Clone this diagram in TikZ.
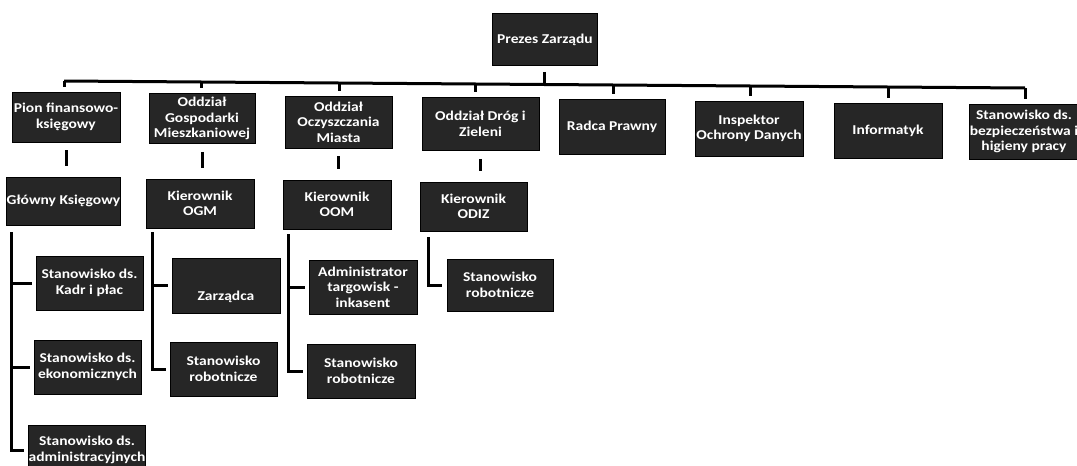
\documentclass[tikz,border=0pt]{standalone}
\usepackage{fontspec}
\setmainfont{Carlito}[FakeStretch=1.15]
\begin{document}
\begin{tikzpicture}[x=1pt,y=-1pt,
  box/.style={draw=black, line width=0.8pt, fill=black!85, text=white,
    font=\bfseries\fontsize{13.5}{15.5}\selectfont, align=center, inner sep=0pt},
  conn/.style={draw=black, line width=3pt, line join=miter}]
\fill[white] (0,0) rectangle (1077,466);
\useasboundingbox (0,0) rectangle (1077,466);
% level 0
\node[box, minimum width=105, minimum height=52] (prezes) at (545,39.5) {Prezes Zarządu};
% level 1
\node[box, minimum width=108, minimum height=50] (pion) at (66,117) {Pion finansowo-\\księgowy};
\node[box, minimum width=106, minimum height=50] (ogm) at (202,118.5) {Oddział\\Gospodarki\\Mieszkaniowej};
\node[box, minimum width=107, minimum height=52] (oom) at (338.5,122) {Oddział\\Oczyszczania\\Miasta};
\node[box, minimum width=117, minimum height=53] (drog) at (480.5,124) {Oddział Dróg i\\Zieleni};
\node[box, minimum width=106, minimum height=55] (radca) at (612,127) {Radca Prawny};
\node[box, minimum width=108, minimum height=55] (insp) at (749,128.5) {Inspektor\\Ochrony Danych};
\node[box, minimum width=108, minimum height=55] (inf) at (888,130.5) {Informatyk};
\node[box, minimum width=106, minimum height=55] (bhp) at (1024,131.5) {Stanowisko ds.\\bezpieczeństwa i\\higieny pracy};
% level 2
\node[box, minimum width=107, minimum height=48] (glowny) at (63.5,201) {Główny Księgowy};
\node[box, minimum width=108, minimum height=49] (kogm) at (200,203.5) {Kierownik\\OGM};
\node[box, minimum width=108, minimum height=49] (koom) at (337,204.5) {Kierownik\\OOM};
\node[box, minimum width=107, minimum height=49] (kodiz) at (473.5,206.5) {Kierownik\\ODIZ};
% level 3
\node[box, minimum width=107, minimum height=54] (kadr) at (89.5,283) {Stanowisko ds.\\Kadr i płac};
\node[box, minimum width=107, minimum height=54] (ekon) at (87.5,367) {Stanowisko ds.\\ekonomicznych};
\node[box, minimum width=108, minimum height=50] (admin) at (87,450) {Stanowisko ds.\\administracyjnych};
\node[box, minimum width=108, minimum height=55, text height=30pt, text depth=0pt] (zarz) at (226,285.5) {Zarządca};
\node[box, minimum width=107, minimum height=54] (robogm) at (223.5,369) {Stanowisko\\robotnicze};
\node[box, minimum width=108, minimum height=54] (admt) at (363,287) {Administrator\\targowisk -\\inkasent};
\node[box, minimum width=108, minimum height=54] (roboom) at (361,371) {Stanowisko\\robotnicze};
\node[box, minimum width=106, minimum height=52] (robodiz) at (500,285) {Stanowisko\\robotnicze};
% bus coordinates
\coordinate (b1) at (64,81);
\coordinate (b2) at (201,82);
\coordinate (b3) at (339,83);
\coordinate (b4) at (475,84);
\coordinate (bp) at (544,84.5);
\coordinate (b5) at (613,85);
\coordinate (b6) at (750,86);
\coordinate (b7) at (888,87);
\coordinate (b8) at (1025,88);
\draw[conn] (b1) -- (b8);
\draw[conn, shorten <=6pt] (prezes.south -| bp) -- (bp);
\foreach \b/\n in {b1/pion,b2/ogm,b3/oom,b4/drog,b5/radca,b6/insp,b7/inf,b8/bhp}
  \draw[conn, shorten >=5pt] (\b) -- (\b |- \n.north);
% level 1 -> level 2 bars
\foreach \a/\c in {pion/glowny,ogm/kogm,oom/koom,drog/kodiz}
  \draw[conn, shorten <=8pt, shorten >=11pt] (\a.south) -- (\a.south |- \c.north);
% trunks
\coordinate (t1) at ([xshift=5.5pt,yshift=-7pt]glowny.south west);
\coordinate (t2) at ([xshift=7pt,yshift=-4pt]kogm.south west);
\coordinate (t3) at ([xshift=6pt,yshift=-5pt]koom.south west);
\coordinate (t4) at ([xshift=9pt,yshift=-6pt]kodiz.south west);
\draw[conn, shorten >=4pt] (t1) |- (admin.west);
\draw[conn, shorten >=4pt] (t1 |- kadr.west) -- (kadr.west);
\draw[conn, shorten >=4pt] (t1 |- ekon.west) -- (ekon.west);
\draw[conn, shorten >=4pt] (t2) |- (robogm.west);
\draw[conn, shorten >=4pt] (t2 |- zarz.west) -- (zarz.west);
\draw[conn, shorten >=4pt] (t3) |- (roboom.west);
\draw[conn, shorten >=4pt] (t3 |- admt.west) -- (admt.west);
\draw[conn, shorten >=5pt] (t4) |- (robodiz.west);
\end{tikzpicture}
\end{document}
